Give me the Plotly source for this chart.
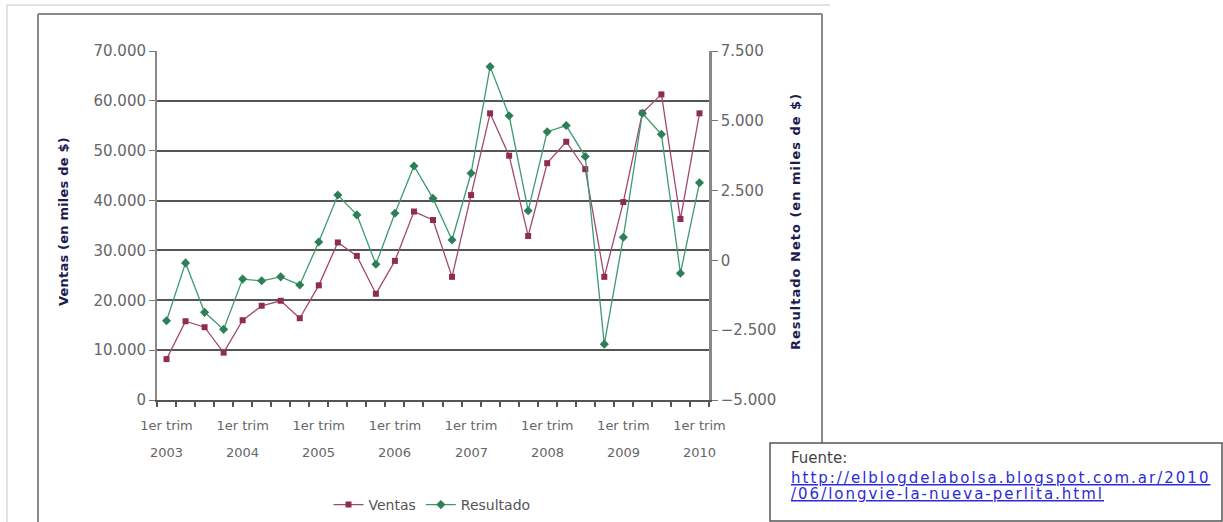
import plotly.graph_objects as go

# ---- data ----
quarters = [f"{q} {y}" for y in range(2003, 2011) for q in ["1er trim", "2do trim", "3er trim", "4to trim"]][:29]
label_years = ["2003", "2004", "2005", "2006", "2007", "2008", "2009", "2010"]
label_text = "1er trim"
ventas = [8200, 15800, 14600, 9500, 16000, 18900, 19900, 16400, 23000, 31600,
          28900, 21300, 27900, 37800, 36100, 24700, 41100, 57500, 49000, 32900,
          47500, 51800, 46300, 24700, 39700, 57600, 61300, 36300, 57500]
resultado = [-2160, -90, -1860, -2470, -670, -730, -590, -880, 660, 2340,
             1630, -140, 1690, 3380, 2220, 730, 3120, 6940, 5180, 1780,
             4610, 4830, 3720, -3000, 830, 5270, 4520, -460, 2780]
left_ticks = [0, 10000, 20000, 30000, 40000, 50000, 60000, 70000]
right_ticks = [-5000, -2500, 0, 2500, 5000, 7500]

W, H = 1223, 522
L, R, T, B = 157, 709, 51, 400  # plot area in px

def px(x):
    return (x - L) / (R - L)

def py(y):
    return (B - y) / (B - T)

xs = list(range(len(quarters)))
label_idx = [i for i, q in enumerate(quarters) if q.startswith("1er")]

FONT = "DejaVu Sans"
TICKC = "#666666"
GRID = "#555555"

fig = go.Figure()
fig.add_trace(go.Scatter(
    x=xs, y=ventas, name="Ventas", mode="lines+markers",
    line=dict(color="#a34872", width=1.3),
    marker=dict(symbol="square", size=6, color="#8e2d52"),
    yaxis="y"))
fig.add_trace(go.Scatter(
    x=xs, y=resultado, name="Resultado", mode="lines+markers",
    line=dict(color="#3d9a70", width=1.3),
    marker=dict(symbol="diamond", size=7, color="#2e7f58"),
    yaxis="y2"))

shapes = []
def line(x0, y0, x1, y1, color, width):
    shapes.append(dict(type="line", xref="paper", yref="paper",
                       x0=px(x0), y0=py(y0), x1=px(x1), y1=py(y1),
                       line=dict(color=color, width=width)))

# faint outer frame
line(7, 5, 830, 5, "#d8d8d8", 1.5)
line(7, 5, 7, 522, "#d8d8d8", 1.5)
# chart frame
line(38, 14, 822, 14, "#8a8a8a", 2)
line(38, 14, 38, 522, "#8a8a8a", 2)
line(822, 14, 822, 443, "#8a8a8a", 2)
# source box
shapes.append(dict(type="rect", xref="paper", yref="paper",
                   x0=px(770), y0=py(443), x1=px(1222), y1=py(521),
                   line=dict(color="#555555", width=1.5), fillcolor="white", layer="above"))

annotations = []
# year row of x labels
for i, yr in zip(label_idx, label_years):
    annotations.append(dict(x=i, y=py(452), xref="x", yref="paper", text=yr,
                            showarrow=False, font=dict(family=FONT, size=13, color=TICKC),
                            xanchor="center", yanchor="middle"))
# axis titles
annotations.append(dict(x=px(63), y=py(222), xref="paper", yref="paper",
                        text="<span style='letter-spacing:0.2px'><b>Ventas (en miles de $)</b></span>",
                        textangle=-90, showarrow=False,
                        font=dict(family=FONT, size=13, color="#1c1c50"),
                        xanchor="center", yanchor="middle"))
annotations.append(dict(x=px(795), y=py(222), xref="paper", yref="paper",
                        text="<span style='letter-spacing:1px'><b>Resultado Neto (en miles de $)</b></span>",
                        textangle=-90, showarrow=False,
                        font=dict(family=FONT, size=13, color="#1c1c50"),
                        xanchor="center", yanchor="middle"))
# source text
annotations.append(dict(x=px(789), y=py(458), xref="paper", yref="paper",
                        text="Fuente:", showarrow=False,
                        font=dict(family=FONT, size=15, color="#444444"),
                        xanchor="left", yanchor="middle"))
for yy, t in [(478, "http://elblogdelabolsa.blogspot.com.ar/2010"),
              (494, "/06/longvie-la-nueva-perlita.html")]:
    annotations.append(dict(x=px(789), y=py(yy), xref="paper", yref="paper",
                            text=f"<span style='text-decoration:underline;letter-spacing:2px'>{t}</span>",
                            showarrow=False,
                            font=dict(family=FONT, size=15, color="#2b2bd8"),
                            xanchor="left", yanchor="middle"))

fig.update_layout(
    width=W, height=H,
    margin=dict(l=L, r=W - R, t=T, b=H - B, autoexpand=False),
    paper_bgcolor="white", plot_bgcolor="white",
    separators=",.",
    showlegend=True,
    legend=dict(orientation="h", xref="container", yref="container",
                x=432 / W, y=(H - 505) / H, xanchor="center", yanchor="middle",
                font=dict(family=FONT, size=14, color="#555555"), itemwidth=30,
                bgcolor="rgba(0,0,0,0)"),
    xaxis=dict(range=[-0.5, len(xs) - 0.5], tickmode="array", tickvals=label_idx,
               ticktext=[label_text] * len(label_idx), ticks="", showgrid=False,
               zeroline=False, showline=True, linecolor="#555555", linewidth=2,
               tickfont=dict(family=FONT, size=13, color=TICKC), ticklabelstandoff=12,
               minor=dict(tickmode="array", tickvals=[i - 0.5 for i in range(len(xs) + 1)],
                          ticks="outside", ticklen=5, tickcolor="#555555", tickwidth=1.5,
                          showgrid=False)),
    yaxis=dict(range=[left_ticks[0], left_ticks[-1]], tickmode="array", tickvals=left_ticks,
               tickformat=",d", showgrid=True, gridcolor=GRID, gridwidth=2, zeroline=False,
               showline=True, linecolor="#888888", linewidth=2, ticks="outside", ticklen=6,
               tickcolor="#777777", tickfont=dict(family=FONT, size=15, color=TICKC)),
    yaxis2=dict(range=[right_ticks[0], right_ticks[-1]], tickmode="array", tickvals=right_ticks,
                tickformat=",d", overlaying="y", side="right", showgrid=False, zeroline=False,
                showline=True, linecolor="#888888", linewidth=2.5, ticks="outside", ticklen=6,
                tickcolor="#777777", tickfont=dict(family=FONT, size=15, color=TICKC)),
    shapes=shapes, annotations=annotations,
)

fig.write_html("out.html", config={"displayModeBar": False},
               post_script="document.body.style.margin='0';document.body.style.overflow='hidden';")
